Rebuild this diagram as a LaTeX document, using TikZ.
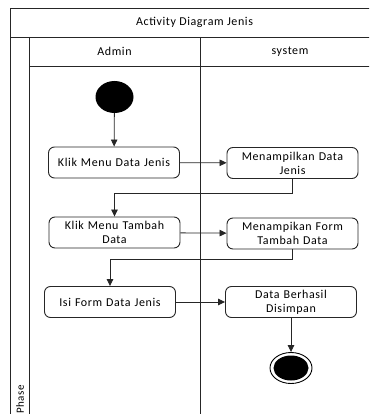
\documentclass[tikz,border=0pt]{standalone}
\usepackage{fontspec}
\setmainfont{Carlito}[LetterSpace=5]
\usetikzlibrary{arrows.meta,shapes.geometric}
\begin{document}
\begin{tikzpicture}[x=1pt,y=-1pt,
  font=\fontsize{12}{14}\selectfont,
  lane/.style={line width=0.9pt, draw=black!85},
  act/.style={draw=black!85, line width=0.9pt, rounded corners=6pt,
    minimum width=131pt, minimum height=31pt, inner sep=1pt,
    align=center, text width=127pt},
  flow/.style={draw=black!85, line width=0.8pt,
    -{Triangle[length=7pt,width=6.5pt]}},
]
\useasboundingbox (0,0) rectangle (369,414);
\clip (0,0) rectangle (369,414);

% swimlane frame
\draw[lane] (10,8) rectangle (379,430);
\draw[lane] (10,37) -- (379,37);
\draw[lane] (29,37) -- (29,430);
\draw[lane] (29,66) -- (379,66);
\draw[lane] (200,37) -- (200,430);

\node (title) at (194.5,22.5) {Activity Diagram Jenis};
\node (admin) at (114.5,51.5) {Admin};
\node (sys) at (290,51.5) {system};
\node[rotate=90, anchor=east, inner sep=0pt, font=\fontsize{11}{13}\selectfont] (phase) at (20,385) {Phase};

% start and end
\node[ellipse, fill=black, minimum width=38pt, minimum height=32pt, inner sep=0pt] (start) at (114.5,97) {};
\node[ellipse, draw=black, line width=0.9pt, minimum width=42pt, minimum height=31pt, inner sep=0pt] (end) at (291,368) {};
\node[ellipse, fill=black, minimum width=35pt, minimum height=25pt, inner sep=0pt] (endin) at (end.center) {};

% activities
\node[act] (b1) at (114,162.5) {Klik Menu Data Jenis};
\node[act] (b2) at (292.5,163) {Menampilkan Data\\Jenis};
\node[act] (b3) at (114.5,232.5) {Klik Menu Tambah\\Data};
\node[act] (b4) at (292.5,233.5) {Menampikan Form\\Tambah Data};
\node[act] (b5) at (110,302) {Isi Form Data Jenis};
\node[act] (b6) at (291,302) {Data Berhasil\\Disimpan};

% control flow
\draw[flow] (start) -- (b1);
\draw[flow] (b1) -- (b2);
\draw[flow] (b2.south) -- ++(0,14) -| (b3.north);
\draw[flow] (b3) -- (b4);
\draw[flow] (b4.south) -- ++(0,10) -| (b5.north);
\draw[flow] (b5) -- (b6);
\draw[flow] (b6) -- (end);
\end{tikzpicture}
\end{document}
